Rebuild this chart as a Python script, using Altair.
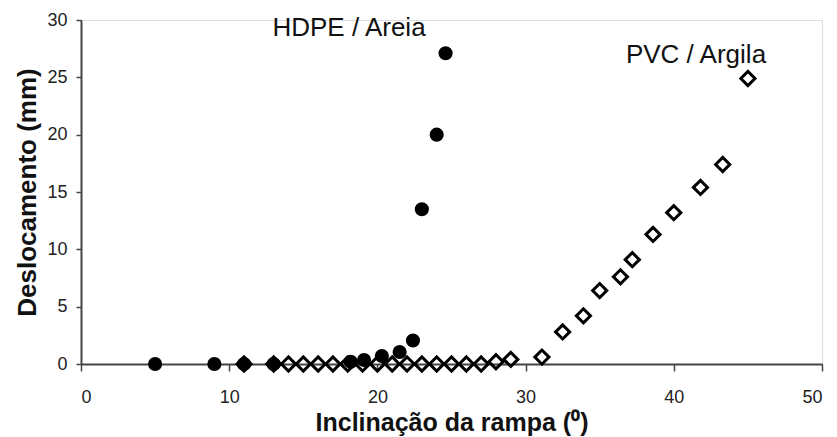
import altair as alt
import pandas as pd

# HDPE / Areia (filled circles)
hdpe_x = [5, 9, 11, 13, 18.2, 19.1, 20.3, 21.5, 22.4, 23.0, 24.0, 24.6]
hdpe_y = [0, 0, 0, 0, 0.2, 0.35, 0.7, 1.05, 2.05, 13.5, 20.0, 27.1]

# PVC / Argila (open diamonds)
pvc_x = [11, 13, 14, 15, 16, 17, 18, 19, 20, 21, 22, 23, 24, 25, 26, 27, 28, 29,
         31.1, 32.5, 33.9, 35.0, 36.4, 37.2, 38.6, 40.0, 41.8, 43.3, 45.0]
pvc_y = [0, 0, 0, 0, 0, 0, 0, 0, 0, 0, 0, 0, 0, 0, 0, 0, 0.2, 0.4,
         0.6, 2.8, 4.2, 6.4, 7.6, 9.1, 11.3, 13.2, 15.4, 17.4, 24.9]

labels = ["HDPE / Areia", "PVC / Argila"]

hdpe = pd.DataFrame({"x": hdpe_x, "y": hdpe_y})
pvc = pd.DataFrame({"x": pvc_x, "y": pvc_y})

FONT = "Liberation Sans"

xs = alt.Scale(domain=[0, 50], nice=False, zero=False)
ys = alt.Scale(domain=[0, 30], nice=False)

xaxis = alt.Axis(values=[0, 10, 20, 30, 40, 50], title="Inclinação da rampa (⁰)",
                 grid=False, labelFont=FONT, labelFontSize=18, titleFont=FONT,
                 titleFontSize=25, titleFontWeight="bold", domainColor="#444",
                 tickColor="#444", domainWidth=2, tickWidth=1.5, tickSize=7,
                 labelColor="#222", titleColor="#111", labelPadding=17, titlePadding=4)
yaxis = alt.Axis(values=[0, 5, 10, 15, 20, 25, 30], title="Deslocamento (mm)",
                 grid=False, labelFont=FONT, labelFontSize=18, titleFont=FONT,
                 titleFontSize=26, titleFontWeight="bold", domainColor="#444",
                 tickColor="#444", domainWidth=2, tickWidth=1.5, tickSize=5,
                 labelColor="#222", titleColor="#111", labelPadding=9, titlePadding=6)

pvc_layer = alt.Chart(pvc).mark_point(shape="diamond", filled=False, size=200,
                                      strokeWidth=3, color="black", opacity=1).encode(
    x=alt.X("x:Q", scale=xs, axis=xaxis),
    y=alt.Y("y:Q", scale=ys, axis=yaxis),
)

hdpe_layer = alt.Chart(hdpe).mark_point(shape="circle", filled=True, size=200,
                                        color="black", opacity=1).encode(
    x=alt.X("x:Q", scale=xs),
    y=alt.Y("y:Q", scale=ys),
)

lab1 = alt.Chart(pd.DataFrame({"t": [labels[0]]})).mark_text(
    font=FONT, fontSize=26, color="#111", align="center", baseline="middle").encode(
    text="t:N", x=alt.value(268), y=alt.value(8))
lab2 = alt.Chart(pd.DataFrame({"t": [labels[1]]})).mark_text(
    font=FONT, fontSize=26, color="#111", align="center", baseline="middle").encode(
    text="t:N", x=alt.value(615), y=alt.value(35))

chart = alt.layer(pvc_layer, hdpe_layer, lab1, lab2).properties(
    width=741, height=344,
    autosize=alt.AutoSizeParams(type="none"),
    padding={"left": 81, "top": 20, "right": 15, "bottom": 73},
).configure_view(stroke=None).configure(background="white")

chart.save("out.html", embed_options={"renderer": "svg", "actions": False})
